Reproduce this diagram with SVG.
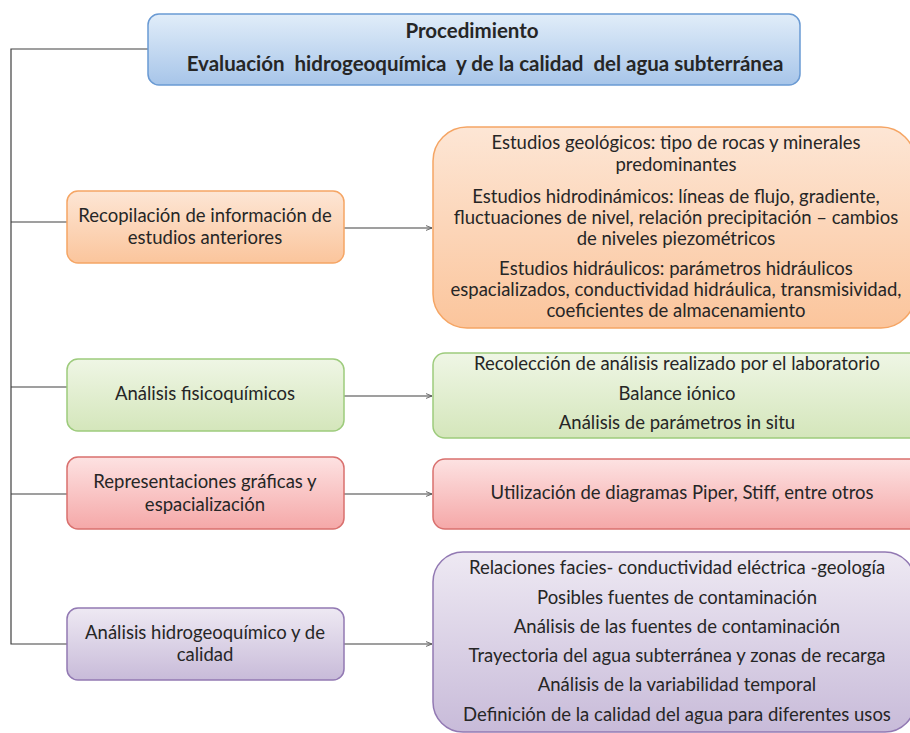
<svg xmlns="http://www.w3.org/2000/svg" width="910" height="733" viewBox="0 0 910 733">
<defs>
<linearGradient id="gBlue" x1="0" y1="0" x2="0" y2="1"><stop offset="0" stop-color="#e1edf9"/><stop offset="1" stop-color="#a7c5e9"/></linearGradient>
<linearGradient id="gOrange" x1="0" y1="0" x2="0" y2="1"><stop offset="0" stop-color="#fde6d5"/><stop offset="1" stop-color="#fbc59c"/></linearGradient>
<linearGradient id="gGreen" x1="0" y1="0" x2="0" y2="1"><stop offset="0" stop-color="#eff6e5"/><stop offset="1" stop-color="#d4e6bb"/></linearGradient>
<linearGradient id="gRed" x1="0" y1="0" x2="0" y2="1"><stop offset="0" stop-color="#fde2e2"/><stop offset="1" stop-color="#f5a8a8"/></linearGradient>
<linearGradient id="gPurple" x1="0" y1="0" x2="0" y2="1"><stop offset="0" stop-color="#eee9f3"/><stop offset="1" stop-color="#c8bbd9"/></linearGradient>
<marker id="arr" viewBox="0 0 10 10" refX="10" refY="5" markerWidth="6" markerHeight="6" orient="auto" markerUnits="userSpaceOnUse">
<path d="M0,1 L10,5 L0,9" fill="none" stroke="#595959" stroke-width="1.5"/>
</marker>
<style>
text{font-family:Lato,"Liberation Sans",sans-serif;font-size:18.5px;fill:#262626;text-anchor:middle;white-space:pre}
.b{font-weight:bold;font-size:20.5px}
.conn{fill:none;stroke:#404040;stroke-width:1.2}
.blue{fill:url(#gBlue);stroke:#6a9ad3;stroke-width:1.5}
.orange{fill:url(#gOrange);stroke:#f5a564;stroke-width:1.5}
.green{fill:url(#gGreen);stroke:#9dcb7c;stroke-width:1.5}
.red{fill:url(#gRed);stroke:#d9706e;stroke-width:1.5}
.purple{fill:url(#gPurple);stroke:#9279b3;stroke-width:1.5}
</style>
</defs>
<rect width="910" height="733" fill="#ffffff"/>
<g id="connectors">
<path class="conn" d="M148,49 H11 V644 H67"/>
<path class="conn" d="M11,222 H67"/>
<path class="conn" d="M11,387 H67"/>
<path class="conn" d="M11,494 H67"/>
<path class="conn" d="M344,228 H432" marker-end="url(#arr)"/>
<path class="conn" d="M344,396 H432" marker-end="url(#arr)"/>
<path class="conn" d="M344,494 H432" marker-end="url(#arr)"/>
<path class="conn" d="M344,644 H432" marker-end="url(#arr)"/>
</g>
<g id="top">
<rect class="blue" x="148" y="14" width="652" height="71" rx="11"/>
<text class="b" x="472" y="38">Procedimiento</text>
<text class="b" x="485" y="71">Evaluación  hidrogeoquímica  y de la calidad  del agua subterránea</text>
</g>
<g id="recopilacion">
<rect class="orange" x="67" y="191" width="277" height="72" rx="11"/>
<text x="205" y="222">Recopilación de información de</text>
<text x="205" y="244">estudios anteriores</text>
</g>
<g id="estudios">
<rect class="orange" x="433" y="127" width="482" height="201" rx="34"/>
<text x="676" y="149">Estudios geológicos: tipo de rocas y minerales</text>
<text x="676" y="171">predominantes</text>
<text x="676" y="203">Estudios hidrodinámicos: líneas de flujo, gradiente,</text>
<text x="676" y="224">fluctuaciones de nivel, relación precipitación – cambios</text>
<text x="676" y="245">de niveles piezométricos</text>
<text x="676" y="275">Estudios hidráulicos: parámetros hidráulicos</text>
<text x="676" y="296">espacializados, conductividad hidráulica, transmisividad,</text>
<text x="676" y="317">coeficientes de almacenamiento</text>
</g>
<g id="fisicoquimicos">
<rect class="green" x="67" y="359" width="277" height="72" rx="11"/>
<text x="205" y="400">Análisis fisicoquímicos</text>
</g>
<g id="recoleccion">
<rect class="green" x="433" y="353" width="500" height="85" rx="12"/>
<text x="677" y="370">Recolección de análisis realizado por el laboratorio</text>
<text x="677" y="400">Balance iónico</text>
<text x="677" y="429">Análisis de parámetros in situ</text>
</g>
<g id="representaciones">
<rect class="red" x="67" y="457" width="277" height="72" rx="11"/>
<text x="205" y="488">Representaciones gráficas y</text>
<text x="205" y="511">espacialización</text>
</g>
<g id="diagramas">
<rect class="red" x="433" y="459" width="500" height="70" rx="12"/>
<text x="682" y="499">Utilización de diagramas Piper, Stiff, entre otros</text>
</g>
<g id="hidrogeoquimico">
<rect class="purple" x="67" y="608" width="277" height="72" rx="11"/>
<text x="205" y="639">Análisis hidrogeoquímico y de</text>
<text x="205" y="661">calidad</text>
</g>
<g id="relaciones">
<rect class="purple" x="433" y="552" width="482" height="180" rx="30"/>
<text x="677" y="574">Relaciones facies- conductividad eléctrica -geología</text>
<text x="677" y="604">Posibles fuentes de contaminación</text>
<text x="677" y="633">Análisis de las fuentes de contaminación</text>
<text x="677" y="662">Trayectoria del agua subterránea y zonas de recarga</text>
<text x="677" y="691">Análisis de la variabilidad temporal</text>
<text x="677" y="721">Definición de la calidad del agua para diferentes usos</text>
</g>
</svg>
